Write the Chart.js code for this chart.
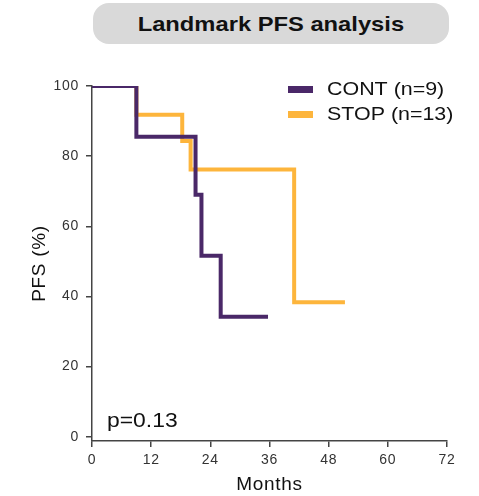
<!DOCTYPE html>
<html>
<head>
<meta charset="utf-8">
<script src="https://cdn.jsdelivr.net/npm/chart.js@4"></script>
<style>
  html, body { margin: 0; padding: 0; background: #fff; }
  #wrap { position: relative; width: 479px; height: 496px; }
  #title {
    position: absolute; left: 93px; top: 3px; width: 356px; height: 41px;
    background: #d9d9d9; border-radius: 16px;
    font: bold 21px Arial, "Liberation Sans", sans-serif; color: #111;
    display: flex; align-items: center; justify-content: center;
  }
  #title span { display: inline-block; transform: scaleX(1.13); }
  canvas { position: absolute; left: 0; top: 0; }
</style>
</head>
<body>
<div id="wrap">
  <canvas id="pfsChart" width="479" height="496"></canvas>
  <div id="title"><span>Landmark PFS analysis</span></div>
</div>
<script>
// Kaplan-Meier step points (months, PFS %)
const contMonths = [0, 9, 21, 22.2, 26.1, 35.7];
const contPfs = [100, 85.5, 69, 51.6, 34.2, 34.2];
const stopMonths = [0, 9, 18.3, 20, 41, 51.3];
const stopPfs = [100, 91.8, 84.3, 76.2, 38.3, 38.3];

const seriesLabels = ["CONT (n=9)", "STOP (n=13)"];
const xTicks = [0, 12, 24, 36, 48, 60, 72];
const yTicks = [0, 20, 40, 60, 80, 100];
const pValueText = "p=0.13";

const purple = "#4a2868";
const orange = "#fdb53c";
const axisColor = "#444";
const fontFamily = "Arial, 'Liberation Sans', sans-serif";

const toPoints = (xs, ys) => xs.map((x, i) => ({ x, y: ys[i] }));

// the reference lettering is a bit wider than Arial
const spacing = {
  id: "spacing",
  beforeDraw(chart) {
    chart.ctx.letterSpacing = "0.7px";
  },
};

// draw text stretched horizontally, anchored at its left edge
function wideText(ctx, text, x, y, stretch) {
  ctx.save();
  ctx.translate(x, y);
  ctx.scale(stretch, 1);
  ctx.fillText(text, 0, 0);
  ctx.restore();
}

// legend + p value drawn inside the plot
const annotations = {
  id: "annotations",
  afterDraw(chart) {
    const ctx = chart.ctx;
    const area = chart.chartArea;
    ctx.save();
    ctx.letterSpacing = "0px";
    ctx.font = "18px " + fontFamily;
    ctx.textBaseline = "middle";
    chart.data.datasets.forEach((ds, i) => {
      const y = 89 + i * 25;
      ctx.fillStyle = ds.borderColor;
      ctx.fillRect(288, y - 3, 25, 7);
      ctx.fillStyle = "#111";
      wideText(ctx, ds.label, 327, y + 1, 1.19);
    });
    ctx.font = "21px " + fontFamily;
    ctx.textBaseline = "alphabetic";
    wideText(ctx, pValueText, area.left + 15, 427, 1.09);
    ctx.restore();
  },
};

new Chart(document.getElementById("pfsChart").getContext("2d"), {
  type: "line",
  data: {
    datasets: [
      {
        label: seriesLabels[0],
        data: toPoints(contMonths, contPfs),
        borderColor: purple,
        backgroundColor: purple,
        borderWidth: 4,
        stepped: "before",
        pointRadius: 0,
        fill: false,
        borderJoinStyle: "miter",
        borderCapStyle: "butt",
      },
      {
        label: seriesLabels[1],
        data: toPoints(stopMonths, stopPfs),
        borderColor: orange,
        backgroundColor: orange,
        borderWidth: 4,
        stepped: "before",
        pointRadius: 0,
        fill: false,
        borderJoinStyle: "miter",
        borderCapStyle: "butt",
      },
    ],
  },
  options: {
    responsive: false,
    animation: false,
    layout: { padding: { top: 86, right: 32, bottom: 0, left: 0 } },
    plugins: {
      legend: { display: false },
      tooltip: { enabled: false },
    },
    scales: {
      x: {
        type: "linear",
        min: 0,
        max: 72,
        afterBuildTicks: (scale) => {
          scale.ticks = xTicks.map((v) => ({ value: v }));
        },
        afterFit: (scale) => {
          scale.height = 55;
        },
        ticks: {
          color: "#333",
          font: { family: fontFamily, size: 14 },
          padding: 5,
          maxRotation: 0,
        },
        grid: {
          drawOnChartArea: false,
          drawTicks: true,
          tickLength: 6,
          color: axisColor,
          lineWidth: 1.5,
        },
        border: { color: axisColor, width: 1.5 },
        title: {
          display: true,
          text: "Months",
          color: "#111",
          font: { family: fontFamily, size: 19 },
          padding: { top: 1, bottom: 0 },
        },
      },
      y: {
        type: "linear",
        min: -1.23,
        max: 100,
        afterBuildTicks: (scale) => {
          scale.ticks = yTicks.map((v) => ({ value: v }));
        },
        afterFit: (scale) => {
          scale.width = 92;
        },
        ticks: {
          color: "#333",
          font: { family: fontFamily, size: 14 },
          padding: 7,
        },
        grid: {
          drawOnChartArea: false,
          drawTicks: true,
          tickLength: 6,
          color: axisColor,
          lineWidth: 1.5,
        },
        border: { color: axisColor, width: 1.5 },
        title: {
          display: true,
          text: "PFS (%)",
          color: "#111",
          font: { family: fontFamily, size: 19 },
          padding: { top: 28, bottom: 0 },
        },
      },
    },
  },
  plugins: [spacing, annotations],
});
</script>
</body>
</html>
